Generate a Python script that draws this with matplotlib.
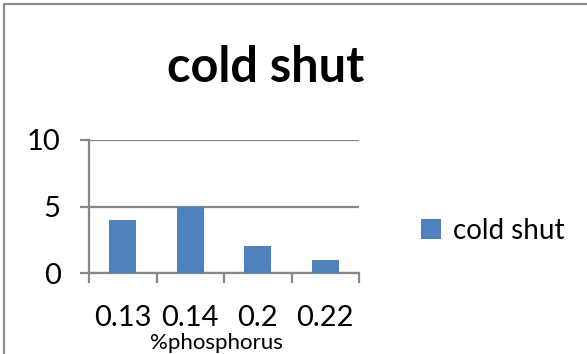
import matplotlib.pyplot as plt
from matplotlib.patches import Rectangle

# phosphorus content vs. number of cold shut defects
categorias = ['0.13', '0.14', '0.2', '0.22']
cold_shut = [4, 5, 2, 1]

W, H = 587, 354
plt.rcParams['font.family'] = ['Lato', 'DejaVu Sans']

fig = plt.figure(figsize=(W / 100, H / 100), dpi=100)

# chart frame (cut off on right and bottom)
fig.patches.append(Rectangle((4 / W, -0.1), 1.2, (H - 4) / H + 0.1, transform=fig.transFigure,
                             fill=False, edgecolor='#8c8c8c', linewidth=1.6))

ax = fig.add_axes([89 / W, (H - 273) / H, (359 - 89) / W, 133 / H])
x = range(len(categorias))
ax.bar(x, cold_shut, width=0.4, color='#4F81BD', label='cold shut', zorder=3)

gris = '#868686'
ax.set_ylim(0, 10)
ax.set_xlim(-0.5, 3.5)
ax.set_yticks([0, 5, 10])
ax.yaxis.grid(True, color=gris, linewidth=1.6, zorder=0)
ax.tick_params(axis='y', length=6.5, width=1.6, color=gris, labelsize=21, pad=14)

ax.set_xticks(list(x))
ax.set_xticklabels(categorias)
ax.set_xticks([i - 0.5 for i in range(len(categorias) + 1)], minor=True)
ax.tick_params(axis='x', which='major', length=0, labelsize=21, pad=23)
ax.tick_params(axis='x', which='minor', length=7, width=1.6, color=gris)

for lado in ['top', 'right']:
    ax.spines[lado].set_visible(False)
for lado in ['left', 'bottom']:
    ax.spines[lado].set_color(gris)
    ax.spines[lado].set_linewidth(1.6)

fig.text(216 / W, 1 / H, '%phosphorus', ha='center', va='bottom', fontsize=16)
fig.text(266 / W, 1 - 68 / H, 'cold shut', ha='center', va='center', fontsize=35, fontweight='bold')

ax.legend(loc='center left', bbox_to_anchor=(410 / W, 1 - 231 / H), bbox_transform=fig.transFigure,
          frameon=False, fontsize=20, handlelength=0.7, handleheight=0.75, handletextpad=0.45,
          borderaxespad=0)

fig.savefig('out.png', dpi=100)
